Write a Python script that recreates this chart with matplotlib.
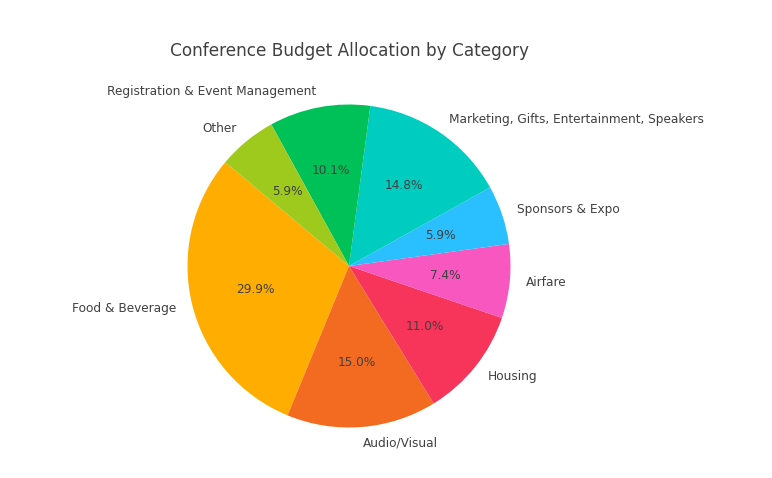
import matplotlib
matplotlib.use("Agg")
import matplotlib.pyplot as plt

# data
categories = ["Food & Beverage", "Audio/Visual", "Housing", "Airfare",
              "Sponsors & Expo", "Marketing, Gifts, Entertainment, Speakers",
              "Registration & Event Management", "Other"]
shares = [29.9, 15.0, 11.0, 7.4, 5.9, 14.8, 10.1, 5.9]
colors = ["#FFAD00", "#F26B21", "#F7345A", "#F857C0",
          "#2ABFFF", "#00CCC0", "#00C157", "#9ECA1E"]

fig = plt.figure(figsize=(7.72, 4.78), dpi=100)
ax = fig.add_axes([0.0, 0.0, 1.0, 1.0])
wedges, texts, autotexts = ax.pie(shares, labels=categories, colors=colors,
                                  autopct="%1.1f%%", startangle=140,
                                  radius=1.0, labeldistance=1.1, pctdistance=0.6,
                                  textprops={"color": "#404040", "fontsize": 8.7})
ax.set_aspect("equal")
# place pie: center (349, 266) px, radius ~161.5 px
r = 161.5
cx, cy = 349, 478 - 266
W, H = 772, 478
ax.set_position([(cx - r) / W, (cy - r) / H, 2 * r / W, 2 * r / H])
ax.set_xlim(-1, 1)
ax.set_ylim(-1, 1)
fig.text(349 / W, 1 - 51 / H, "Conference Budget Allocation by Category",
         ha="center", va="center", fontsize=12.2, color="#404040")

fig.savefig("out.png", dpi=100)
